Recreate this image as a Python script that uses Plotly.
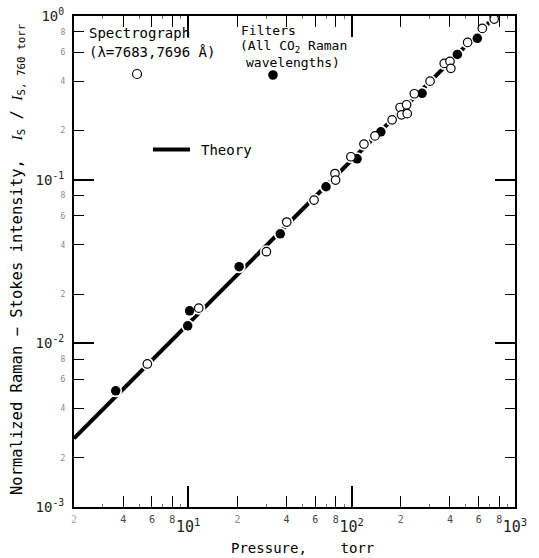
import plotly.graph_objects as go

# ---------------- data ----------------
spectro_p = [5.62, 11.6, 30.1, 40.1, 58.9, 79.1, 79.8, 99, 119, 139, 177,
             198, 217, 202, 219, 242, 302, 369, 400, 405, 513, 631, 746]
spectro_i = [7.48e-3, 1.64e-2, 3.63e-2, 5.51e-2, 7.5e-2, 0.109, 0.0994, 0.138,
             0.165, 0.185, 0.232, 0.276, 0.287, 0.249, 0.253, 0.335, 0.40,
             0.513, 0.528, 0.479, 0.690, 0.84, 0.957]

filter_p = [3.6, 9.93, 10.2, 20.5, 36.6, 69.7, 108, 151, 270, 444, 588, 743]
filter_i = [5.13e-3, 1.28e-2, 1.58e-2, 2.94e-2, 4.67e-2, 9.05e-2, 0.134,
            0.196, 0.337, 0.582, 0.730, 0.987]

theory_p = [2, 760]
theory_i = [2.63e-3, 1.0]

x_minor_vals = [2, 4, 6, 8, 20, 40, 60, 80, 200, 400, 600, 800]
x_minor_text = ['<span style="color:#aaa">2</span>', '4', '6', '8',
                '<span style="color:#888">2</span>', '4', '6', '8',
                '<span style="color:#666">2</span>', '4', '6', '8']
x_major_vals = [10, 100, 1000]
x_major_text = ['10<sup>1</sup>', '10<sup>2</sup>', '10<sup>3</sup>']
x_tiny_vals = [3, 5, 7, 9, 30, 50, 70, 90, 300, 500, 700, 900]

y_minor_vals = [2e-3, 4e-3, 6e-3, 8e-3, 2e-2, 4e-2, 6e-2, 8e-2, 0.2, 0.4, 0.6, 0.8]
y_minor_text = ['2', '4', '6', '8', '2', '4', '6', '8', '2', '4', '6', '8']
y_major_vals = [1e-3, 1e-2, 1e-1, 1]
y_major_text = ['10<sup>-3</sup>', '10<sup>-2</sup>', '10<sup>-1</sup>', '10<sup>0</sup>']

FONT = "DejaVu Sans Mono"

fig = go.Figure()

# theory line
fig.add_trace(go.Scatter(x=theory_p, y=theory_i, mode='lines',
                         line=dict(color='black', width=4), hoverinfo='skip',
                         showlegend=False))
# white halos to break the line around points
for px_, iy_ in ((spectro_p, spectro_i), (filter_p, filter_i)):
    fig.add_trace(go.Scatter(x=px_, y=iy_, mode='markers',
                             marker=dict(size=13, color='white', line=dict(width=0)),
                             hoverinfo='skip', showlegend=False))
fig.add_trace(go.Scatter(x=filter_p, y=filter_i, mode='markers',
                         marker=dict(size=9.5, color='black', line=dict(width=0)),
                         showlegend=False))
fig.add_trace(go.Scatter(x=spectro_p, y=spectro_i, mode='markers',
                         marker=dict(size=8.5, color='white',
                                     line=dict(color='black', width=1.2)),
                         showlegend=False))

axis_common = dict(type='log', showgrid=False, zeroline=False, showline=True,
                   linecolor='black', linewidth=2, mirror='ticks', ticks='inside',
                   tickcolor='black', tickmode='array', automargin=False)

xr = [0.30103, 3]
yr = [-3, 0]

fig.update_layout(
    width=539, height=558,
    margin=dict(l=74, r=24, t=16, b=51, autoexpand=False),
    paper_bgcolor='white', plot_bgcolor='white',
    font=dict(family=FONT, color='black'),
    xaxis=dict(**axis_common, range=xr, tickvals=x_minor_vals, ticktext=x_minor_text,
               ticklen=11, tickwidth=1.3, tickangle=0,
               tickfont=dict(size=10, color='#444'), ticklabelstandoff=2,
               minor=dict(tickvals=x_tiny_vals, ticklen=3, tickwidth=1,
                          tickcolor='#777', ticks='inside')),
    xaxis2=dict(**axis_common, range=xr, tickvals=x_major_vals, ticktext=x_major_text,
                ticklen=21, tickwidth=1.5, overlaying='x', side='bottom', anchor='y',
                tickfont=dict(size=15, color='#222'), ticklabelstandoff=5),
    yaxis=dict(**axis_common, range=yr, tickvals=y_minor_vals, ticktext=y_minor_text,
               ticklen=10, tickwidth=1.2, tickfont=dict(size=8, color='#888'),
               ticklabelstandoff=5),
    yaxis2=dict(**axis_common, range=yr, tickvals=y_major_vals, ticktext=y_major_text,
                ticklen=20, tickwidth=1.5, overlaying='y', side='left', anchor='x',
                tickfont=dict(size=14, color='#222'), ticklabelstandoff=5),
)

# dummy trace so the overlaying axes are drawn
fig.add_trace(go.Scatter(x=theory_p, y=theory_i, xaxis='x2', yaxis='y2', mode='lines',
                         line=dict(width=0, color='rgba(0,0,0,0)'), hoverinfo='skip',
                         showlegend=False))

ann = [
    dict(text='Spectrograph', x=0.0295, y=0.9654, xanchor='left', size=14),
    dict(text='(λ=7683,7696 Å)', x=0.0295, y=0.9267, xanchor='left', size=14),
    dict(text='Filters', x=0.3741, y=0.9695, xanchor='left', size=13),
    dict(text='(All CO<sub>2</sub> Raman', x=0.4977, y=0.9389, xanchor='center', size=13),
    dict(text='wavelengths)', x=0.4965, y=0.9043, xanchor='center', size=13),
    dict(text='Theory', x=0.2834, y=0.7281, xanchor='left', size=14),
]
for a in ann:
    sz = a.pop('size')
    fig.add_annotation(xref='paper', yref='paper', yanchor='middle', showarrow=False,
                       font=dict(size=sz, family=FONT, color='black'), **a)

fig.add_annotation(text='Pressure,    torr', xref='paper', yref='paper',
                   x=0.519, y=-0.0835, xanchor='center', yanchor='middle',
                   showarrow=False, font=dict(size=14, family=FONT, color='black'))
fig.add_annotation(
    text='Normalized Raman − Stokes intensity,  '
         '<span style="font-family:Liberation Serif"><i>I</i></span><sub>S</sub> / '
         '<span style="font-family:Liberation Serif"><i>I</i></span><sub>S, 760 torr</sub>',
    xref='paper', yref='paper', x=-0.127, y=0.505, xanchor='center', yanchor='middle',
    textangle=-90, showarrow=False, font=dict(size=15.5, family=FONT, color='black'))

# legend keys
fig.add_shape(type='circle', xref='paper', yref='paper', xsizemode='pixel',
              ysizemode='pixel', xanchor=0.1429, yanchor=0.8819,
              x0=-4.5, x1=4.5, y0=-4.5, y1=4.5,
              line=dict(color='black', width=1.2), fillcolor='white')
fig.add_shape(type='circle', xref='paper', yref='paper', xsizemode='pixel',
              ysizemode='pixel', xanchor=0.4512, yanchor=0.8798,
              x0=-4.8, x1=4.8, y0=-4.8, y1=4.8,
              line=dict(color='black', width=0), fillcolor='black')
fig.add_shape(type='line', xref='paper', yref='paper', x0=0.1791, x1=0.2630,
              y0=0.7281, y1=0.7281, line=dict(color='black', width=4))

fig.write_html("out.html", config={'displayModeBar': False},
               post_script="document.body.style.margin='0';"
                           "document.body.style.overflow='hidden';")
